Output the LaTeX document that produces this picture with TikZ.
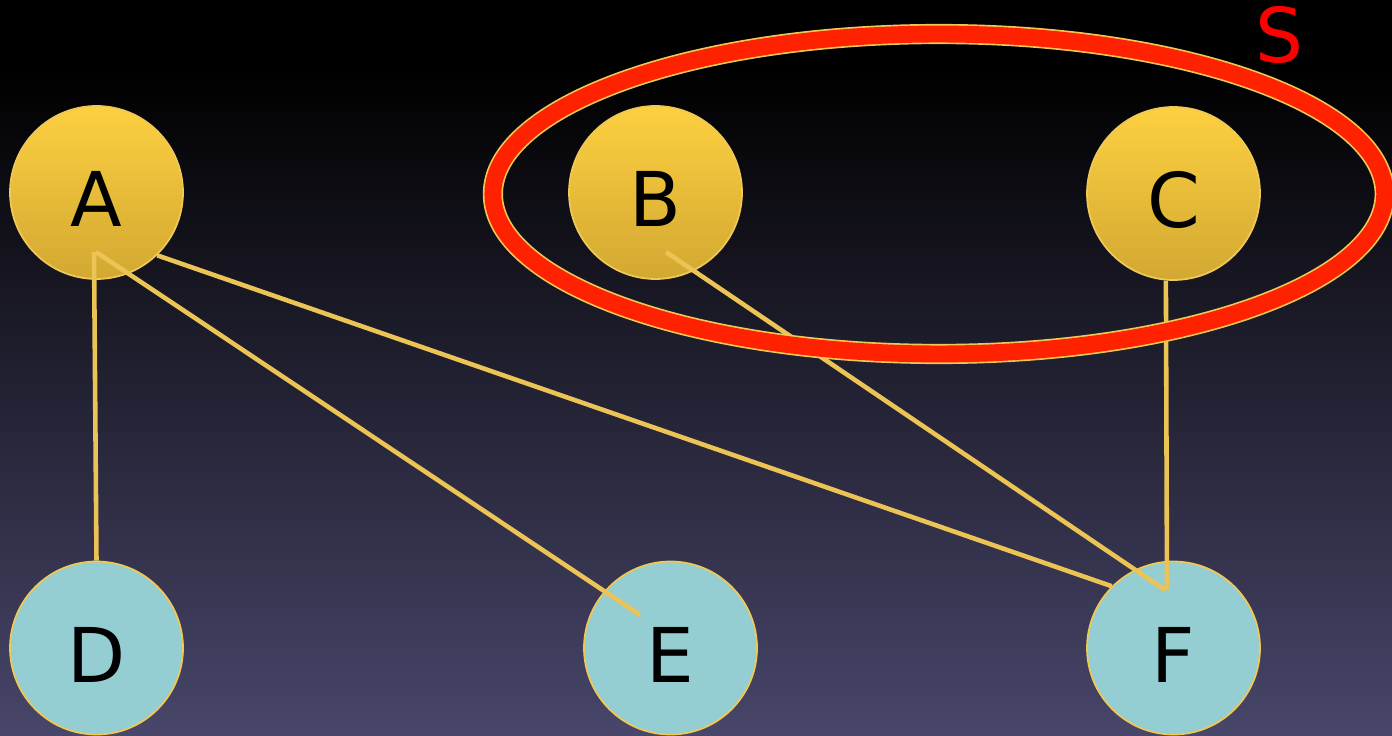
\documentclass[tikz,border=0pt]{standalone}
\usepackage{fontspec}
\setmainfont{DejaVu Sans}
\definecolor{bgbot}{RGB}{72,70,106}
\definecolor{goldtop}{RGB}{253,208,64}
\definecolor{goldbot}{RGB}{210,168,50}
\definecolor{goldrim}{RGB}{240,200,85}
\definecolor{tealfill}{RGB}{148,205,210}
\definecolor{linkcol}{RGB}{236,196,85}
\definecolor{setred}{RGB}{255,34,0}
\tikzset{
	vertex/.style={circle, minimum size=3.46cm, inner sep=0pt, line width=1pt, draw=goldrim,
		font=\fontsize{43}{43}\selectfont, text height=39pt, text depth=0pt},
	gold/.style={vertex, top color=goldtop, bottom color=goldbot},
	teal/.style={vertex, fill=tealfill},
	link/.style={linkcol, line width=2.6pt}
}
\begin{document}
\begin{tikzpicture}[x=0.02cm, y=-0.02cm]
			\useasboundingbox (0,0) rectangle (1392,736);
			\fill[black] (0,0) rectangle (1392,736);
			\shade[top color=black, bottom color=bgbot] (0,70) rectangle (1392,736);
			\node[gold](A) at (96.5,192.5){A};
			\node[gold](B) at (655.5,192.5){B};
			\node[gold](C) at (1173.5,193.5){C};
			\node[teal](D) at (96.5,648){D};
			\node[teal](E) at (670.5,648){E};
			\node[teal](F) at (1173.5,648){F};
			\coordinate (a1) at ([shift={(-2.5,59.5)}]A.center);
			\coordinate (a2) at ([shift={(-0.5,59.5)}]A.center);
			\coordinate (b1) at ([shift={(10.5,59.5)}]B.center);
			\coordinate (e1) at ([shift={(-30.5,-33)}]E.center);
			\coordinate (f1) at ([shift={(-8.5,-58)}]F.center);
			\coordinate (f2) at ([shift={(-6.5,-58)}]F.center);
			\draw[link] (a1) -- (D.north);
			\draw[link] (a2) -- (e1);
			\draw[link] (A.-46) -- (F.135);
			\draw[link] (b1) -- (f1);
			\draw[link] (C.-95) -- (f2);
			\draw[goldrim, line width=11.5pt] (938.8,194) ellipse [x radius=8.92cm, y radius=3.2cm];
			\draw[setred, line width=9.6pt] (938.8,194) ellipse [x radius=8.92cm, y radius=3.2cm];
			\node[red, font=\fontsize{43}{43}\selectfont](S) at (1279,35){S};
\end{tikzpicture}
\end{document}
